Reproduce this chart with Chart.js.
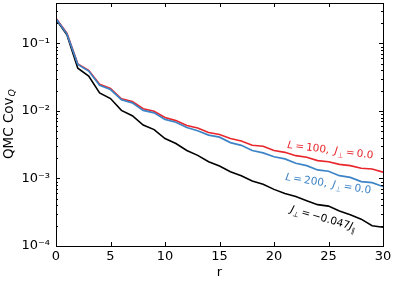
<!DOCTYPE html>
<html><head><meta charset="utf-8">
<script src="https://cdn.jsdelivr.net/npm/chart.js@4.4.1/dist/chart.umd.min.js"></script>
<style>html,body{margin:0;padding:0;background:#fff;}#wrap{width:395px;height:282px;}</style>
</head><body><div id="wrap"><canvas id="c" width="395" height="282"></canvas></div>
<script>
const rValues = [0,1,2,3,4,5,6,7,8,9,10,11,12,13,14,15,16,17,18,19,20,21,22,23,24,25,26,27,28,29,30];
const covL100 = [0.236,0.143,0.050,0.040,0.0250,0.0215,0.0152,0.0138,0.0108,0.0099,0.0080,0.0072,0.0061,0.0056,0.0048,0.0045,0.0039,0.0036,0.0031,0.0030,0.0026,0.00244,0.00218,0.00206,0.00184,0.00177,0.00162,0.00155,0.00142,0.00138,0.00124];
const covL200 = [0.232,0.139,0.049,0.039,0.0240,0.0208,0.0147,0.0132,0.0102,0.0094,0.0075,0.0068,0.0057,0.0051,0.0044,0.0041,0.0034,0.0031,0.0026,0.0024,0.0021,0.00195,0.00168,0.00155,0.00134,0.00128,0.00110,0.00104,0.00090,0.00087,0.00076];
const covJperp = [0.228,0.135,0.043,0.033,0.0185,0.0153,0.0102,0.0085,0.0062,0.0053,0.0039,0.0033,0.0026,0.0022,0.00177,0.00153,0.00126,0.00110,0.00092,0.00082,0.00069,0.00060,0.00054,0.00047,0.00041,0.00039,0.00033,0.00029,0.00025,0.00020,0.00019];
const seriesNames = ['L=100, J⊥=0.0','L=200, J⊥=0.0','J⊥=−0.047J∥'];
const xTickValues = [0,5,10,15,20,25,30];
const yTickValues = [1e-4,1e-3,1e-2,1e-1];
const yTickLabels = ['10⁻⁴','10⁻³','10⁻²','10⁻¹'];
const xTitle = 'r';
const yTitleMain = 'QMC Cov';
const yTitleSub = 'Q';

const RED = '#e8262b', BLUE = '#3d84c6', BLACK = '#000000';
const FONT = '"DejaVu Sans", sans-serif';
const TS = '\u2009';

function pts(arr){ return rValues.map((r,i)=>({x:r,y:arr[i]})); }

function drawRuns(ctx, x, y, angleDeg, runs, color, size){
  ctx.save();
  ctx.translate(x,y);
  ctx.rotate(angleDeg*Math.PI/180);
  ctx.fillStyle = color;
  ctx.textBaseline = 'alphabetic';
  ctx.textAlign = 'left';
  let cx = 0;
  runs.forEach(r=>{
    const fs = r.sub ? Math.round(size*0.7) : size;
    ctx.font = (r.it?'italic ':'') + fs + 'px ' + FONT;
    ctx.fillText(r.t, cx, r.sub ? 3 : 0);
    cx += ctx.measureText(r.t).width;
  });
  ctx.restore();
}

const decorPlugin = {
  id:'decor',
  afterDraw(chart){
    const ctx = chart.ctx, a = chart.chartArea;
    const xs = chart.scales.x, ys = chart.scales.y;
    ctx.save();
    ctx.strokeStyle = '#000'; ctx.lineWidth = 1;
    ctx.strokeRect(Math.round(a.left)+0.5, Math.round(a.top)+0.5, Math.round(a.right-a.left), Math.round(a.bottom-a.top));
    ctx.beginPath();
    xTickValues.forEach(v=>{
      const px = Math.round(xs.getPixelForValue(v))+0.5;
      ctx.moveTo(px,a.bottom); ctx.lineTo(px,a.bottom-4);
      ctx.moveTo(px,a.top); ctx.lineTo(px,a.top+4);
    });
    yTickValues.forEach(v=>{
      const py = Math.round(ys.getPixelForValue(v))+0.5;
      ctx.moveTo(a.left,py); ctx.lineTo(a.left+4,py);
      ctx.moveTo(a.right,py); ctx.lineTo(a.right-4,py);
    });
    for(let d=-4; d<=-1; d++){
      for(let k=2;k<=9;k++){
        const v = k*Math.pow(10,d);
        if(v>ys.max) continue;
        const py = Math.round(ys.getPixelForValue(v))+0.5;
        ctx.moveTo(a.left,py); ctx.lineTo(a.left+2,py);
        ctx.moveTo(a.right,py); ctx.lineTo(a.right-2,py);
      }
    }
    ctx.stroke();
    ctx.restore();

    ctx.save();
    ctx.translate(9,(a.top+a.bottom)/2);
    ctx.rotate(-Math.PI/2);
    ctx.fillStyle='#000';
    ctx.textBaseline='middle';
    ctx.font='13.5px '+FONT;
    const w1 = ctx.measureText(yTitleMain).width;
    ctx.font='italic 9.5px '+FONT;
    const w2 = ctx.measureText(yTitleSub).width;
    const sx = -(w1+w2)/2;
    ctx.font='13.5px '+FONT;
    ctx.fillText(yTitleMain, sx, 0);
    ctx.font='italic 9.5px '+FONT;
    ctx.fillText(yTitleSub, sx+w1+1, 4);
    ctx.restore();

    drawRuns(ctx, 287, 148, 7, [
      {t:'L',it:true},{t:TS+'='+TS+'100,'+TS+' '},{t:'J',it:true},{t:'⊥',sub:true},{t:TS+'='+TS+'0.0'}
    ], RED, 10.5);
    drawRuns(ctx, 285, 180, 9, [
      {t:'L',it:true},{t:TS+'='+TS+'200,'+TS+' '},{t:'J',it:true},{t:'⊥',sub:true},{t:TS+'='+TS+'0.0'}
    ], BLUE, 10.5);
    drawRuns(ctx, 290, 212, 16, [
      {t:'J',it:true},{t:'⊥',sub:true},{t:TS+'='+TS+'−0.047'},{t:'J',it:true},{t:'∥',sub:true}
    ], BLACK, 10.5);
  }
};

new Chart(document.getElementById('c'), {
  type:'line',
  data:{
    datasets:[
      {label:seriesNames[1], data:pts(covL200), borderColor:BLUE, backgroundColor:BLUE, borderWidth:1.7, pointRadius:0, tension:0, order:0},
      {label:seriesNames[0], data:pts(covL100), borderColor:RED, backgroundColor:RED, borderWidth:1.6, pointRadius:0, tension:0, order:1},
      {label:seriesNames[2], data:pts(covJperp), borderColor:BLACK, backgroundColor:BLACK, borderWidth:1.6, pointRadius:0, tension:0, order:2}
    ]
  },
  options:{
    responsive:false, animation:false, devicePixelRatio:1,
    layout:{padding:{left:0,top:3,right:12,bottom:0}},
    plugins:{legend:{display:false}, tooltip:{enabled:false}},
    scales:{
      x:{type:'linear', min:0, max:30,
        afterBuildTicks:(s)=>{ s.ticks = xTickValues.map(v=>({value:v})); },
        afterFit:(s)=>{ s.height = 36; s.paddingLeft = 0; s.paddingRight = 0; },
        grid:{display:false, drawTicks:false}, border:{display:false},
        ticks:{color:'#000', font:{family:FONT, size:13}, padding:3, maxRotation:0, autoSkip:false},
        title:{display:true, text:xTitle, color:'#000', font:{family:FONT, size:13}, padding:{top:0,bottom:2}}
      },
      y:{type:'logarithmic', min:1e-4, max:0.398,
        afterBuildTicks:(s)=>{ s.ticks = yTickValues.map(v=>({value:v})); },
        afterFit:(s)=>{ s.width = 56; s.paddingTop = 0; s.paddingBottom = 0; },
        grid:{display:false, drawTicks:false}, border:{display:false},
        ticks:{color:'#000', font:{family:FONT, size:13}, padding:6, autoSkip:false,
          callback:(v,i)=>yTickLabels[i]}
      }
    }
  },
  plugins:[decorPlugin]
});
</script></body></html>
